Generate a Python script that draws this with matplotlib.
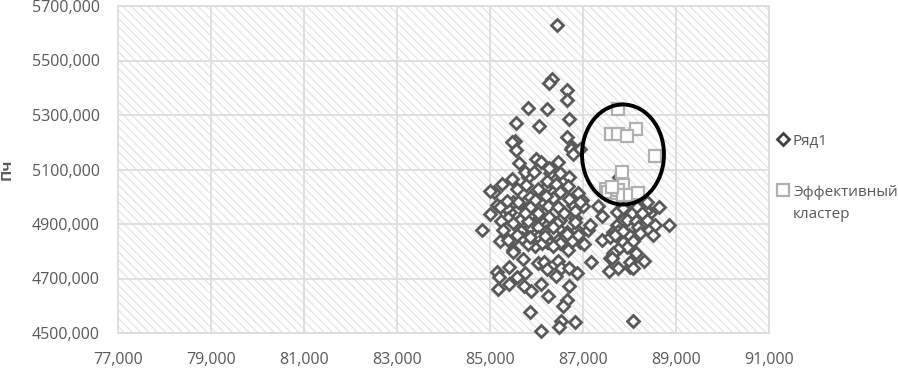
import matplotlib
matplotlib.use("Agg")
import matplotlib.pyplot as plt
from matplotlib.lines import Line2D
from matplotlib.patches import Ellipse, Rectangle
from matplotlib.ticker import FuncFormatter

x_ticks = [77000, 79000, 81000, 83000, 85000, 87000, 89000, 91000]
y_ticks = [4500000, 4700000, 4900000, 5100000, 5300000, 5500000, 5700000]

# первые 40 точек - те, что почти скрыты под остальными
row_x = [86080, 85750, 86510, 86290, 86010, 85430, 86350, 86780, 85490, 85860, 86180, 86570, 86290, 85820,
         85370, 85150, 85650, 85860, 85390, 86180, 86510, 86830, 86230, 86350, 85900, 85750, 85540, 86940,
         86980, 87730, 88160, 87860, 88270, 87640, 88010, 87860, 87580, 88010, 87950, 88440,
         86440, 86330, 86270, 86660, 86660, 85820, 86230, 86700, 85560, 86050, 86660, 85540, 85470, 85560,
         86760, 86740, 86940, 86780, 85620, 85990, 86100, 86460, 86270, 85750, 85950, 86510, 85470, 86230,
         86700, 85260, 85770, 86420, 86680, 85090, 85000, 85580, 86030, 86510, 86200, 86890, 86700, 85970,
         85600, 85370, 85220, 86250, 85770, 86460, 86830, 86590, 85000, 86030, 86270, 85840, 85240, 85490,
         86440, 84830, 85280, 85670, 86030, 86660, 86350, 86870, 86030, 85820, 86350, 86830,
         85220, 85490, 85410, 85710, 85150, 85190, 85170, 85410, 85580, 85750, 85730, 85880, 86100, 86030,
         86160, 86230, 86460, 86530, 86420, 86700, 86870, 86700, 86250, 86660, 86570, 85860, 86530, 86830,
         86480, 86100, 88070, 87170, 87020, 86680, 87110, 87150, 87000, 86940, 87320, 87410, 87410, 87580,
         87750, 87730, 88050, 87950, 88140, 88350, 88370, 88630, 88370, 88550, 88850, 88500, 88180, 87990,
         88230, 88070, 87950, 87750, 87640, 88140, 87620, 88310, 88010, 88070, 87750, 87560, 87690, 87860,
         88160, 88260, 87860, 87770, 85970, 85690, 86250, 86510, 86760, 85820, 86120, 86350, 85390, 85580,
         85860, 86180, 86660, 86890, 85490, 85860, 85750, 86030]
row_y = [4915, 4981, 4915, 4885, 4959, 4944, 4995, 4970, 4981, 4999, 5032, 5062, 5087, 5073,
         4959, 4970, 4915, 4889, 4922, 4871, 4878, 4922, 4834, 4823, 4834, 4860, 4849, 4834,
         4988, 4896, 4940, 4915, 4896, 4871, 4885, 4834, 4775, 4742, 4951, 4940,
         5630, 5432, 5417, 5392, 5355, 5326, 5322, 5285, 5271, 5260, 5219, 5205, 5201, 5172,
         5183, 5175, 5175, 5157, 5124, 5139, 5128, 5128, 5106, 5091, 5091, 5087, 5065, 5058,
         5073, 5047, 5043, 5047, 5039, 5017, 5021, 5028, 5028, 5017, 5003, 5014, 4992, 4988,
         4981, 4984, 4962, 4966, 4955, 4962, 4948, 4940, 4937, 4929, 4926, 4929, 4911, 4904,
         4904, 4878, 4878, 4874, 4889, 4871, 4867, 4878, 4852, 4911, 4889, 4907,
         4838, 4805, 4742, 4772, 4724, 4706, 4661, 4680, 4706, 4720, 4672, 4654, 4680, 4757,
         4761, 4735, 4764, 4739, 4709, 4739, 4720, 4672, 4636, 4621, 4599, 4577, 4544, 4540,
         4522, 4507, 4544, 4761, 4827, 4805, 4878, 4896, 4966, 4981, 4966, 4929, 4841, 4852,
         4874, 4944, 4940, 4915, 4911, 4948, 4915, 4962, 4981, 4896, 4896, 4860, 4889, 4860,
         4867, 4838, 4816, 4808, 4794, 4794, 4775, 4764, 4761, 4739, 4739, 4728, 4860, 4959,
         4962, 4940, 4874, 5073, 4819, 4849, 4834, 4830, 4838, 4827, 4830, 4819, 4841, 4860,
         4852, 4856, 4863, 4860, 4797, 4962, 4940, 4940]
row_y = [v * 1000 for v in row_y]

cluster_x = [87750, 87600, 88140, 87750, 87950, 88550, 87840, 87490, 87540, 87730, 87860, 87750, 87860, 88010, 88180, 87620]
cluster_y = [5322000, 5230000, 5249000, 5230000, 5223000, 5150000, 5091000, 5028000, 5017000, 5014000, 5043000, 5025000, 5006000, 5006000, 5014000, 5036000]

GRAY = "#595959"
plt.rcParams["font.family"] = ["Open Sans", "DejaVu Sans"]
plt.rcParams["hatch.linewidth"] = 0.8

fig = plt.figure(figsize=(8.98, 3.70), dpi=100)
ax = fig.add_axes([118 / 898, 1 - 333 / 370, (769 - 118) / 898, (333 - 6) / 370])
ax.set_xlim(77000, 91000)
ax.set_ylim(4500000, 5700000)

# фон со штриховкой
ax.add_patch(Rectangle((0, 0), 1, 1, transform=ax.transAxes, facecolor="white", edgecolor="#e2e2e2",
                       hatch="\\" * 4, linewidth=0, zorder=0))
ax.grid(True, color="#dddddd", linewidth=1.3, zorder=1)
ax.set_axisbelow(False)
for s in ax.spines.values():
    s.set_color("#dddddd")
    s.set_linewidth(1.3)

ax.set_xticks(x_ticks)
ax.set_yticks(y_ticks)
ax.xaxis.set_major_formatter(FuncFormatter(lambda v, p: f"{int(v):,}"))
# на оси Y запятая только перед последними тремя цифрами
ax.yaxis.set_major_formatter(FuncFormatter(lambda v, p: f"{int(v) // 1000},{int(v) % 1000:03d}"))
ax.tick_params(length=0, labelsize=11.5, labelcolor=GRAY)
ax.tick_params(axis="x", pad=14)
ax.tick_params(axis="y", pad=13)

ax.plot(row_x, row_y, ls="none", marker="D", ms=6, mfc="white", mec=GRAY, mew=2, zorder=3, clip_on=False)
ax.plot(cluster_x, cluster_y, ls="none", marker="s", ms=8, mfc="white", mec="#b0b0b0", mew=1.6, zorder=4)

ax.add_patch(Ellipse((87860, 5155000), 1763, 367000, facecolor="none", edgecolor="black", linewidth=2.8, zorder=5))

fig.text(7 / 898, 1 - 169 / 370, "Пч", rotation=90, ha="center", va="center", fontsize=11, color=GRAY, fontweight="bold")

# легенда вручную
fig.add_artist(Line2D([783 / 898], [1 - 139 / 370], marker="D", ms=6, mfc="white", mec="#404040", mew=2, transform=fig.transFigure))
fig.add_artist(Line2D([783 / 898], [1 - 190 / 370], marker="s", ms=8, mfc="white", mec="#b0b0b0", mew=1.6, transform=fig.transFigure))
fig.text(793 / 898, 1 - 141 / 370, "Ряд1", ha="left", va="center", fontsize=11, color=GRAY)
fig.text(793 / 898, 1 - 193 / 370, "Эффективный", ha="left", va="center", fontsize=11, color=GRAY)
fig.text(793 / 898, 1 - 215 / 370, "кластер", ha="left", va="center", fontsize=11, color=GRAY)

fig.savefig("out.png", dpi=100)
